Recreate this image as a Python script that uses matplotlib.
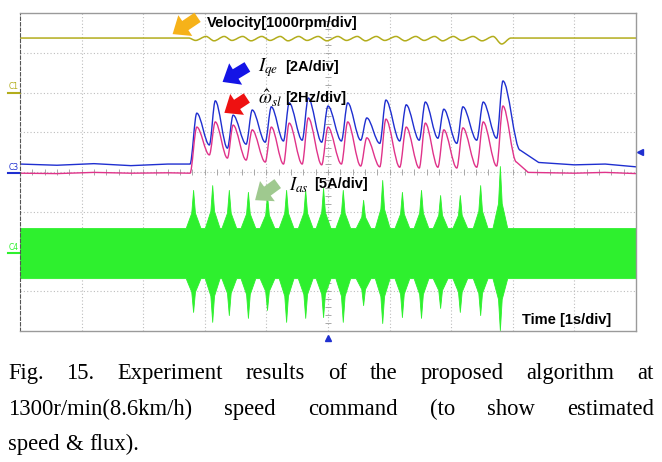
import matplotlib
matplotlib.use("Agg")
import matplotlib.pyplot as plt
from matplotlib.path import Path
from matplotlib.patches import PathPatch

plt.rcParams["mathtext.fontset"] = "stix"

# oscilloscope screen: 10 div x 8 div, values in divisions
# cycle peaks of torque current / slip (time in s)
t_cycle = [2.87, 3.17, 3.46, 3.77, 4.08, 4.37, 4.68, 5.00, 5.32, 5.63,
           5.94, 6.27, 6.58, 6.88, 7.19, 7.52, 7.84]
iqe_peak = [5.48, 5.79, 5.43, 5.56, 5.64, 5.74, 5.86, 5.66, 5.74, 5.36,
            5.81, 5.69, 5.76, 5.58, 5.64, 5.76, 6.29]
iqe_trough = [4.68, 4.60, 4.70, 4.75, 4.78, 4.80, 4.75, 4.78, 4.80, 4.72,
              4.78, 4.80, 4.85, 4.72, 4.80, 4.85]
wsl_peak = [5.13, 5.26, 5.18, 5.06, 5.13, 5.23, 5.36, 5.13, 5.26, 4.86,
            5.33, 5.13, 5.23, 5.06, 5.11, 5.26, 5.66]
wsl_trough = [4.43, 4.35, 4.30, 4.25, 4.20, 4.20, 4.18, 4.20, 4.15, 4.13,
              4.12, 4.10, 4.12, 4.10, 4.12, 4.15]

# baselines before the load step and tail after it
iqe_pre_t = [0.0, 0.6, 1.2, 1.8, 2.4, 2.76]
iqe_pre = [4.20, 4.17, 4.21, 4.16, 4.20, 4.20]
iqe_post_t = [8.12, 8.42, 9.0, 9.5, 10.0]
iqe_post = [4.55, 4.24, 4.18, 4.20, 4.13]
wsl_pre_t = [0.0, 0.6, 1.2, 1.8, 2.4, 2.76]
wsl_pre = [3.97, 3.96, 3.99, 3.97, 3.98, 3.97]
wsl_post_t = [8.06, 8.25, 9.0, 9.5, 10.0]
wsl_post = [4.25, 3.99, 3.97, 3.99, 3.96]

# speed
vel_base = 7.37
vel_dip = [7.31, 7.30, 7.31, 7.30, 7.31, 7.30, 7.31, 7.30, 7.31, 7.30,
           7.31, 7.30, 7.31, 7.30, 7.31, 7.30, 7.22]
vel_top = 7.41

# phase current envelope
ias_base_top = 2.59
ias_base_bot = 1.33
ias_t = [2.81, 3.12, 3.39, 3.70, 4.01, 4.32, 4.63, 4.92, 5.24, 5.57,
         5.88, 6.20, 6.51, 6.82, 7.14, 7.47, 7.79]
ias_top = [3.55, 3.67, 3.55, 3.50, 3.42, 3.55, 3.55, 3.60, 3.55, 3.30,
           3.80, 3.50, 3.55, 3.42, 3.42, 3.67, 4.15]
ias_bot = [0.48, 0.23, 0.40, 0.33, 0.53, 0.23, 0.33, 0.35, 0.23, 0.65,
           0.20, 0.35, 0.33, 0.58, 0.48, 0.40, 0.02]

c_vel = "#b3ad1c"
c_iqe = "#1f2fd0"
c_wsl = "#e0338a"
c_ias = "#2ef02e"


def trace_path(pre_t, pre_v, xs, ys, post_t, post_v):
    # straight baseline, smooth curves through peaks/troughs, straight tail
    verts = [(pre_t[0], pre_v[0])]
    codes = [Path.MOVETO]
    for x, y in zip(pre_t[1:], pre_v[1:]):
        verts.append((x, y))
        codes.append(Path.LINETO)
    pts = [(pre_t[-1], pre_v[-1])] + list(zip(xs, ys)) + [(post_t[0], post_v[0])]
    for (xa, ya), (xb, yb) in zip(pts[:-1], pts[1:]):
        d = (xb - xa) / 3
        verts += [(xa + d, ya), (xb - d, yb), (xb, yb)]
        codes += [Path.CURVE4] * 3
    for x, y in zip(post_t[1:], post_v[1:]):
        verts.append((x, y))
        codes.append(Path.LINETO)
    return Path(verts, codes)


def cycle_points(peaks, troughs):
    xs, ys = [], []
    for i, p in enumerate(peaks):
        xs.append(t_cycle[i])
        ys.append(p)
        if i < len(troughs):
            xs.append(t_cycle[i] + 0.68 * (t_cycle[i + 1] - t_cycle[i]))
            ys.append(troughs[i])
    return xs, ys


fig = plt.figure(figsize=(6.62, 4.62), dpi=100)
ax = fig.add_axes([20 / 662, 1 - 331 / 462, 616 / 662, 318 / 462])
ax.set_xlim(0, 10)
ax.set_ylim(0, 8)

# graticule
for gx in range(1, 10):
    ax.axvline(gx, color="#bdbdbd", lw=0.8, ls=(0, (1, 2)), zorder=0)
for gy in range(1, 8):
    ax.axhline(gy, color="#bdbdbd", lw=0.8, ls=(0, (1, 2)), zorder=0)
minor = [i * 0.2 for i in range(1, 50)]
ax.plot(minor, [4] * len(minor), ls="none", marker="|", ms=4,
        color="#a8a8a8", mew=0.7, zorder=0)
minor_y = [i * 0.2 for i in range(1, 40)]
ax.plot([5] * len(minor_y), minor_y, ls="none", marker="_", ms=4,
        color="#a8a8a8", mew=0.7, zorder=0)
ax.set_xticks([])
ax.set_yticks([])
for s in ["top", "right", "bottom"]:
    ax.spines[s].set_color("#9a9a9a")
    ax.spines[s].set_linewidth(1.0)
ax.spines["left"].set_color("#555555")
ax.spines["left"].set_linestyle((0, (3, 2)))

# phase current band
env_t, env_hi, env_lo = [0.0], [ias_base_top], [ias_base_bot]
for ts, hi, lo in zip(ias_t, ias_top, ias_bot):
    env_t += [ts - 0.12, ts - 0.03, ts, ts + 0.03, ts + 0.12]
    env_hi += [ias_base_top, ias_base_top + 0.4 * (hi - ias_base_top), hi,
               ias_base_top + 0.4 * (hi - ias_base_top), ias_base_top]
    env_lo += [ias_base_bot, ias_base_bot - 0.4 * (ias_base_bot - lo), lo,
               ias_base_bot - 0.4 * (ias_base_bot - lo), ias_base_bot]
env_t.append(10.0)
env_hi.append(ias_base_top)
env_lo.append(ias_base_bot)
ax.fill_between(env_t, env_lo, env_hi, color=c_ias, lw=0.6, ec=c_ias)

# speed
vx, vy = [], []
for i, d in enumerate(vel_dip):
    vx.append(t_cycle[i] - 0.02)
    vy.append(d)
    if i < len(vel_dip) - 1:
        vx.append((t_cycle[i] + t_cycle[i + 1]) / 2)
        vy.append(vel_top)
ax.add_patch(PathPatch(trace_path([0.0, 2.74], [vel_base, vel_base], vx, vy,
                                  [7.97, 10.0], [vel_base, vel_base]),
                       fill=False, ec=c_vel, lw=1.1))

bx, by = cycle_points(iqe_peak, iqe_trough)
ax.add_patch(PathPatch(trace_path(iqe_pre_t, iqe_pre, bx, by,
                                  iqe_post_t, iqe_post),
                       fill=False, ec=c_iqe, lw=1.0))
px, py = cycle_points(wsl_peak, wsl_trough)
ax.add_patch(PathPatch(trace_path(wsl_pre_t, wsl_pre, px, py,
                                  wsl_post_t, wsl_post),
                       fill=False, ec=c_wsl, lw=1.0))

# channel markers
ax.text(-0.18, 6.08, "C1", color=c_vel, fontsize=5.5, clip_on=False)
ax.plot([-0.2, 0.0], [6.0, 6.0], color=c_vel, lw=1.5, clip_on=False)
ax.text(-0.18, 4.06, "C3", color=c_iqe, fontsize=5.5, clip_on=False)
ax.plot([-0.2, 0.0], [3.98, 3.98], color=c_iqe, lw=1.5, clip_on=False)
ax.text(-0.18, 2.04, "C4", color=c_ias, fontsize=5.5, clip_on=False)
ax.plot([-0.2, 0.0], [1.96, 1.96], color=c_ias, lw=1.5, clip_on=False)
ax.plot([10.07], [4.5], marker="<", color=c_iqe, ms=4, clip_on=False)
ax.plot([5.0], [-0.17], marker="^", color=c_iqe, ms=4, clip_on=False)

# annotations
arrow = "simple,head_length=0.55,head_width=0.9,tail_width=0.4"
lbl = dict(fontsize=10.5, fontweight="bold", family="Liberation Sans",
           va="center", color="black")
mth = dict(fontsize=13.5, va="center", color="black")
ax.annotate("", xy=(2.44, 7.43), xytext=(2.92, 7.93),
            arrowprops=dict(arrowstyle=arrow, color="#f6b219",
                            mutation_scale=20, lw=0))
ax.text(3.04, 7.75, "Velocity[1000rpm/div]", **lbl)
ax.annotate("", xy=(3.25, 6.23), xytext=(3.73, 6.68),
            arrowprops=dict(arrowstyle=arrow, color="#1414e6",
                            mutation_scale=20, lw=0))
ax.text(3.86, 6.62, r"$I_{qe}$", **mth)
ax.text(4.30, 6.64, "[2A/div]", **lbl)
ax.annotate("", xy=(3.28, 5.45), xytext=(3.72, 5.90),
            arrowprops=dict(arrowstyle=arrow, color="#ee1111",
                            mutation_scale=20, lw=0))
ax.text(3.86, 5.85, r"$\hat{\omega}_{sl}$", **mth)
ax.text(4.30, 5.87, "[2Hz/div]", **lbl)
ax.annotate("", xy=(3.78, 3.25), xytext=(4.22, 3.75),
            arrowprops=dict(arrowstyle=arrow, color="#9fc98f",
                            mutation_scale=20, lw=0))
ax.text(4.36, 3.68, r"$I_{as}$", **mth)
ax.text(4.78, 3.70, "[5A/div]", **lbl)
ax.text(8.15, 0.28, "Time [1s/div]", **lbl)

# caption, justified
cap_lines = ["Fig. 15. Experiment results of the proposed algorithm at",
             "1300r/min(8.6km/h) speed command (to show estimated",
             "speed & flux)."]
cap_base = [379, 415, 450]
renderer = fig.canvas.get_renderer()
x0, x1 = 8, 654
for k, (line, yb) in enumerate(zip(cap_lines, cap_base)):
    words = line.split(" ")
    objs = [fig.text(0, 1 - yb / 462, w, fontsize=16.3,
                     family="Liberation Serif", va="baseline")
            for w in words]
    widths = [o.get_window_extent(renderer).width for o in objs]
    if k < len(cap_lines) - 1:
        gap = (x1 - x0 - sum(widths)) / (len(words) - 1)
    else:
        gap = 6
    x = x0
    for o, w in zip(objs, widths):
        o.set_x(x / 662)
        x += w + gap

fig.savefig("out.png", dpi=100)
